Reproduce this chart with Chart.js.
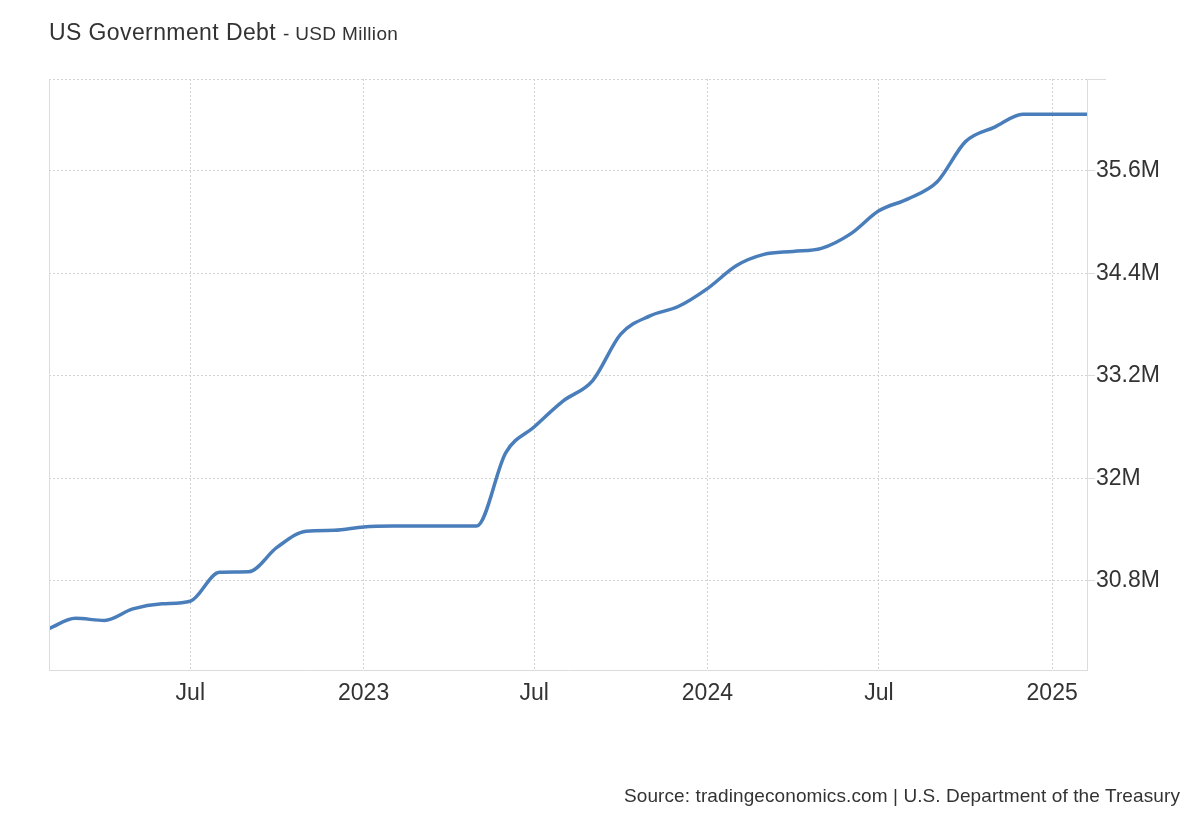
<!DOCTYPE html>
<html>
<head>
<meta charset="utf-8">
<script src="https://cdn.jsdelivr.net/npm/chart.js@4.4.1/dist/chart.umd.min.js"></script>
<style>
  body { margin: 0; background: #fff; font-family: "Liberation Sans", Arial, sans-serif; }
  #wrap { position: relative; width: 1200px; height: 820px; }
  #title { position: absolute; left: 49px; top: 19px; color: #333; font-size: 23px; letter-spacing: 0.4px; white-space: nowrap; }
  #title small { font-size: 19px; letter-spacing: 0.35px; }
  #source { position: absolute; right: 20px; top: 785px; color: #333; font-size: 19px; letter-spacing: 0.1px; white-space: nowrap; }
  canvas { position: absolute; left: 0; top: 0; }
</style>
</head>
<body>
<div id="wrap">
  <canvas id="myChart" width="1200" height="820"></canvas>
  <div id="title">US Government Debt <small>- USD Million</small></div>
  <div id="source">Source: tradingeconomics.com | U.S. Department of the Treasury</div>
</div>
<script>
// monthly readings (USD Million)
const dates = [
  '2022-02-01', '2022-03-01', '2022-04-01', '2022-05-01', '2022-06-01', '2022-07-01',
  '2022-08-01', '2022-09-01', '2022-10-01', '2022-11-01', '2022-12-01', '2023-01-01',
  '2023-02-01', '2023-03-01', '2023-04-01', '2023-05-01', '2023-06-01', '2023-07-01',
  '2023-08-01', '2023-09-01', '2023-10-01', '2023-11-01', '2023-12-01', '2024-01-01',
  '2024-02-01', '2024-03-01', '2024-04-01', '2024-05-01', '2024-06-01', '2024-07-01',
  '2024-08-01', '2024-09-01', '2024-10-01', '2024-11-01', '2024-12-01', '2025-01-01',
  '2025-02-07'
];
const debt = [
  30240000, 30360000, 30335000, 30470000, 30530000, 30560000,
  30900000, 30905000, 31190000, 31380000, 31390000, 31430000,
  31440000, 31440000, 31440000, 31440000, 32300000, 32600000,
  32905000, 33140000, 33686000, 33900000, 34010000, 34220000,
  34490000, 34620000, 34655000, 34690000, 34860000, 35130000,
  35270000, 35470000, 35940000, 36110000, 36260000, 36260000,
  36260000
];
const xTickDates = ['2022-07-01', '2023-01-01', '2023-07-01', '2024-01-01', '2024-07-01', '2025-01-01'];
const xTickLabels = ['Jul', '2023', 'Jul', '2024', 'Jul', '2025'];
const yTicks = [30800000, 32000000, 33200000, 34400000, 35600000];
const yMin = 29755000;
const yMax = 36673000;

function toDay(s) {
  const p = s.split('-').map(Number);
  return Date.UTC(p[0], p[1] - 1, p[2]) / 86400000;
}

const points = dates.map((d, i) => ({ x: toDay(d), y: debt[i] }));

const gridColor = '#d2d2d2';
const tickFont = { family: '"Liberation Sans", Arial, sans-serif', size: 23 };

// solid frame pieces the axes don't draw
const framePlugin = {
  id: 'frame',
  afterDraw(chart) {
    const { ctx, chartArea } = chart;
    ctx.save();
    ctx.strokeStyle = '#dcdcdc';
    ctx.lineWidth = 1;
    ctx.beginPath();
    ctx.moveTo(chartArea.left + 0.5, chartArea.top);
    ctx.lineTo(chartArea.left + 0.5, chartArea.bottom);
    ctx.moveTo(chartArea.right, chartArea.top + 0.5);
    ctx.lineTo(chartArea.right + 19, chartArea.top + 0.5);
    ctx.stroke();
    ctx.restore();
  }
};

const config = {
  type: 'line',
  data: {
    datasets: [{
      data: points,
      borderColor: '#4a7ebb',
      borderWidth: 3.5,
      pointRadius: 0,
      fill: false,
      cubicInterpolationMode: 'monotone'
    }]
  },
  options: {
    responsive: false,
    animation: false,
    events: [],
    layout: { padding: { left: 49, top: 79, right: 0, bottom: 0 } },
    plugins: { legend: { display: false }, tooltip: { enabled: false } },
    scales: {
      x: {
        type: 'linear',
        min: toDay(dates[0]),
        max: toDay(dates[dates.length - 1]),
        afterBuildTicks: (scale) => {
          scale.ticks = xTickDates.map((d) => ({ value: toDay(d) }));
        },
        afterFit: (scale) => { scale.height = 150; },
        grid: {
          color: gridColor,
          drawTicks: false
        },
        border: { display: true, color: '#dcdcdc', width: 1, dash: [2, 2] },
        ticks: {
          autoSkip: false,
          maxRotation: 0,
          padding: 10,
          color: '#333',
          font: tickFont,
          callback: (v, i) => xTickLabels[i]
        }
      },
      y: {
        position: 'right',
        min: yMin,
        max: yMax,
        afterBuildTicks: (scale) => {
          scale.ticks = yTicks.concat([yMax]).map((v) => ({ value: v }));
        },
        afterFit: (scale) => { scale.width = 113; },
        grid: {
          color: gridColor,
          tickColor: '#dcdcdc',
          tickBorderDash: [],
          tickLength: 8
        },
        border: { display: true, color: '#dcdcdc', width: 1, dash: [2, 2] },
        ticks: {
          padding: 1,
          color: '#333',
          font: tickFont,
          callback: (v) => v === yMax ? '' : parseFloat((v / 1e6).toFixed(1)) + 'M'
        }
      }
    }
  },
  plugins: [framePlugin]
};

new Chart(document.getElementById('myChart'), config);
</script>
</body>
</html>
